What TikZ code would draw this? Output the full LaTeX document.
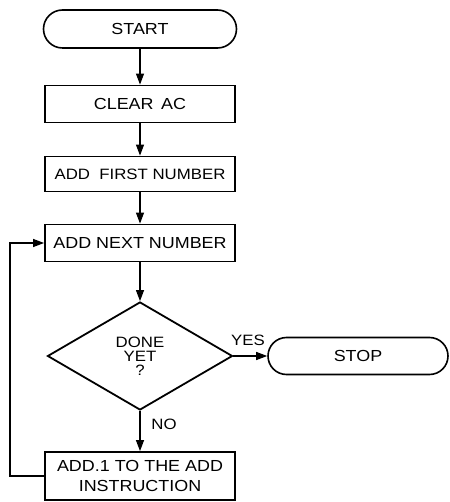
\documentclass[tikz,border=0pt]{standalone}
\usepackage{fontspec}
\setmainfont{Liberation Sans}[FakeStretch=1.12]
\usetikzlibrary{shapes.misc,shapes.geometric,arrows.meta}
\begin{document}
\begin{tikzpicture}[x=1pt,y=-1pt,
  box/.style={draw,line width=1.8pt,rectangle,minimum width=190pt,inner sep=0pt,align=center,font=\fontsize{16}{20}\selectfont},
  term/.style={draw,line width=1.6pt,rounded rectangle,inner sep=0pt,font=\fontsize{16}{20}\selectfont},
  dec/.style={draw,line width=1.8pt,diamond,inner sep=0pt,minimum width=185pt,minimum height=108pt,align=center,font=\fontsize{15}{14}\selectfont},
  conn/.style={line width=1.1pt,-{Triangle[length=11pt,width=8pt]}},
  lbl/.style={font=\fontsize{15}{14}\selectfont,inner sep=0pt}]
\useasboundingbox (0,0) rectangle (449,502);
\node[term,minimum width=193pt,minimum height=38pt] (start) at (140,29) {START};
\node[box,minimum height=37pt] (clear) at (140,104) {CLEAR\, AC};
\node[box,minimum height=35pt,font=\fontsize{15}{20}\selectfont] (first) at (140,174) {ADD\ \ FIRST NUMBER};
\node[box,minimum height=37pt] (next) at (140,243) {ADD NEXT NUMBER};
\node[dec] (done) at (140,356) {DONE\\YET\\?};
\node[term,minimum width=180pt,minimum height=37pt] (stop) at (358,356) {STOP};
\node[box,minimum height=48pt] (add1) at (140,476) {ADD.1 TO THE ADD\\INSTRUCTION};
\node[lbl] (yes) at (248,340) {YES};
\node[lbl] (no) at (164,424) {NO};
\coordinate (fbb) at (10,476);
\coordinate (fbt) at (10,243);
\draw[conn] (start.south) -- (clear.north);
\draw[conn] (clear.south) -- (first.north);
\draw[conn] (first.south) -- (next.north);
\draw[conn] (next.south) -- (done.north);
\draw[conn] (done.east) -- (stop.west);
\draw[conn] (done.south) -- (add1.north);
\draw[conn] (add1.west) -- (fbb) -- (fbt) -- (next.west);
\end{tikzpicture}
\end{document}
